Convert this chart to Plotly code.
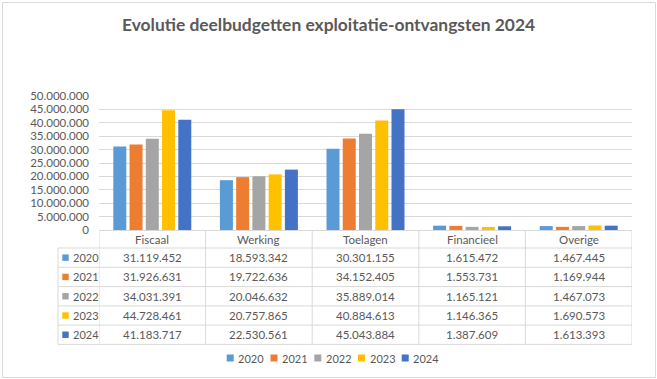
import plotly.graph_objects as go

categories = ["Fiscaal", "Werking", "Toelagen", "Financieel", "Overige"]
years = ["2020", "2021", "2022", "2023", "2024"]
v2020 = [31119452, 18593342, 30301155, 1615472, 1467445]
v2021 = [31926631, 19722636, 34152405, 1553731, 1169944]
v2022 = [34031391, 20046632, 35889014, 1165121, 1467073]
v2023 = [44728461, 20757865, 40884613, 1146365, 1690573]
v2024 = [41183717, 22530561, 45043884, 1387609, 1613393]
series = [v2020, v2021, v2022, v2023, v2024]
colors = ["#5B9BD5", "#ED7D31", "#A5A5A5", "#FFC000", "#4472C4"]
y_ticks = list(range(0, 50000001, 5000000))

W, H = 657, 379
L, R, T, B = 99, 632, 96, 230
PW, PH = R - L, B - T
TXT = "#595959"
GRID = "#D9D9D9"
FONT = "Lato"
FS = 11.5


def nl(n):
    return f"{n:,}".replace(",", ".")


def px(x):
    return (x - L) / PW


def py(y):
    return (B - y) / PH


fig = go.Figure()
for yr, vals, c in zip(years, series, colors):
    fig.add_trace(go.Bar(x=categories, y=vals, name=yr, marker_color=c,
                         marker_line_width=0, showlegend=False, hoverinfo="skip"))

shapes = []
annotations = []


def label(x, y, text, xref="paper", xanchor="center", size=FS, bold=False):
    annotations.append(dict(x=x, y=y, xref=xref, yref="paper",
                            text=f"<b>{text}</b>" if bold else text,
                            xanchor=xanchor, yanchor="middle", showarrow=False,
                            font=dict(family=FONT, size=size, color=TXT)))


# outer border
shapes.append(dict(type="rect", xref="paper", yref="paper", x0=px(2.5), x1=px(655.5),
                   y0=py(377.5), y1=py(2.5), line=dict(color=GRID, width=1)))

row_edges = [248, 267.3, 286.6, 305.9, 325.1, 344.4]
for ry in row_edges:
    shapes.append(dict(type="line", xref="paper", yref="paper", x0=px(58), x1=1,
                       y0=py(ry), y1=py(ry), line=dict(color=GRID, width=1)))
for i in range(len(categories) + 1):
    shapes.append(dict(type="line", xref="x", yref="paper", x0=i - 0.5, x1=i - 0.5,
                       y0=py(B), y1=py(row_edges[-1]), line=dict(color=GRID, width=1)))
shapes.append(dict(type="line", xref="paper", yref="paper", x0=px(58), x1=px(58),
                   y0=py(row_edges[0]), y1=py(row_edges[-1]), line=dict(color=GRID, width=1)))

for i, cat in enumerate(categories):
    label(i, py(239.5), cat, xref="x")

for r, (yr, vals, c) in enumerate(zip(years, series, colors)):
    cy = (row_edges[r] + row_edges[r + 1]) / 2
    for i, v in enumerate(vals):
        label(i, py(cy), nl(v), xref="x")
    shapes.append(dict(type="rect", xref="paper", yref="paper", x0=px(62.3), x1=px(68.7),
                       y0=py(cy + 3.2), y1=py(cy - 3.2), fillcolor=c, line=dict(width=0)))
    label(px(70.5), py(cy), yr, xanchor="left", size=11)

leg_x = [226.7, 270.5, 314.3, 358.0, 401.7]
for lx, yr, c in zip(leg_x, years, colors):
    shapes.append(dict(type="rect", xref="paper", yref="paper", x0=px(lx), x1=px(lx + 7),
                       y0=py(361.5), y1=py(354.5), fillcolor=c, line=dict(width=0)))
    label(px(lx + 9.5), py(358), yr, xanchor="left", size=11)

label(px(328), py(25), "Evolutie deelbudgetten exploitatie-ontvangsten 2024", size=17.4, bold=True)

fig.update_layout(
    width=W, height=H,
    margin=dict(l=L, r=W - R, t=T, b=H - B, pad=0),
    paper_bgcolor="white", plot_bgcolor="white",
    barmode="group", bargap=0.238, bargroupgap=0.2,
    shapes=shapes, annotations=annotations,
    showlegend=False, hovermode=False,
    xaxis=dict(showticklabels=False, showgrid=False, zeroline=False,
               showline=True, linecolor=GRID, linewidth=1, ticks="",
               range=[-0.5, len(categories) - 0.5]),
    yaxis=dict(range=[0, 50000000], tickvals=y_ticks, ticktext=[nl(t) for t in y_ticks],
               showgrid=True, gridcolor=GRID, gridwidth=1, zeroline=False,
               showline=False, ticks="", ticklabelstandoff=9,
               tickfont=dict(family=FONT, size=FS, color=TXT)),
)

fig.write_html("out.html", config={"displayModeBar": False},
               post_script="document.body.style.margin='0';")
